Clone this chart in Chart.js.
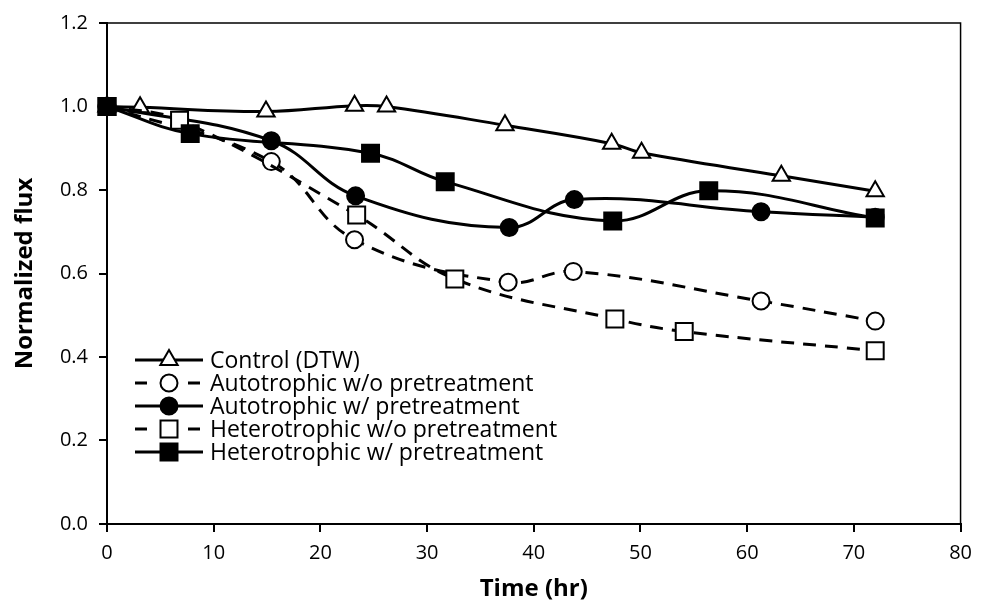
<!DOCTYPE html>
<html>
<head>
<meta charset="utf-8">
<script src="https://cdn.jsdelivr.net/npm/chart.js@4/dist/chart.umd.min.js"></script>
<style>
  html, body { margin: 0; background: #fff; }
  #wrap { width: 981px; height: 607px; }
</style>
</head>
<body>
<div id="wrap"><canvas id="c"></canvas></div>
<script>
// flux decline over time, five feed/pretreatment cases
const FONT = '"Open Sans", sans-serif';

const seriesNames = [
  'Control (DTW)',
  'Autotrophic w/o pretreatment',
  'Autotrophic w/ pretreatment',
  'Heterotrophic w/o pretreatment',
  'Heterotrophic w/ pretreatment',
];

const controlT = [0, 3.1, 14.9, 23.2, 26.2, 37.3, 47.3, 50.1, 63.2, 72];
const controlY = [1.0, 0.998, 0.988, 1.002, 1.0, 0.955, 0.911, 0.889, 0.834, 0.797];

const autoNoT = [0, 15.4, 23.2, 37.6, 43.7, 61.3, 72];
const autoNoY = [1.0, 0.868, 0.681, 0.579, 0.605, 0.534, 0.486];

const autoPreT = [0, 15.4, 23.3, 37.7, 43.8, 61.3, 72];
const autoPreY = [1.0, 0.918, 0.786, 0.710, 0.777, 0.748, 0.735];

const hetNoT = [0, 6.8, 23.4, 32.6, 47.6, 54.1, 72];
const hetNoY = [1.0, 0.967, 0.740, 0.587, 0.491, 0.461, 0.415];

const hetPreT = [0, 7.8, 24.7, 31.7, 47.4, 56.4, 72];
const hetPreY = [1.0, 0.935, 0.888, 0.820, 0.726, 0.798, 0.733];

const xTicks = [0, 10, 20, 30, 40, 50, 60, 70, 80];
const yTicks = [0, 0.2, 0.4, 0.6, 0.8, 1.0, 1.2];

const pts = (t, y) => t.map((x, i) => ({ x, y: y[i] }));

// marker look per series: [style, filled, dashed, radius]
const looks = [
  ['triangle', false, false, 10],
  ['circle', false, true, 8.5],
  ['circle', true, false, 8.5],
  ['rect', false, true, 12],
  ['rect', true, false, 12],
];

const seriesData = [
  pts(controlT, controlY),
  pts(autoNoT, autoNoY),
  pts(autoPreT, autoPreY),
  pts(hetNoT, hetNoY),
  pts(hetPreT, hetPreY),
];

const datasets = seriesNames.map((name, i) => {
  const [style, filled, dashed, r] = looks[i];
  return {
    label: name,
    data: seriesData[i],
    borderColor: '#000',
    borderWidth: 3,
    borderDash: dashed ? [13, 9] : [],
    tension: 0.4,
    pointStyle: style,
    pointRadius: r,
    pointBackgroundColor: filled ? '#000' : '#fff',
    pointBorderColor: '#000',
    pointBorderWidth: 2,
    clip: false,
    order: 4 - i,
  };
});

function drawMarker(ctx, style, filled, r, x, y) {
  ctx.save();
  ctx.beginPath();
  if (style === 'circle') {
    ctx.arc(x, y, r, 0, Math.PI * 2);
  } else if (style === 'rect') {
    const s = r * Math.SQRT1_2;
    ctx.rect(x - s, y - s, 2 * s, 2 * s);
  } else {
    for (let k = 0; k < 3; k++) {
      const a = -Math.PI / 2 + k * 2 * Math.PI / 3;
      const px = x + r * Math.cos(a), py = y + r * Math.sin(a);
      k ? ctx.lineTo(px, py) : ctx.moveTo(px, py);
    }
    ctx.closePath();
  }
  ctx.fillStyle = filled ? '#000' : '#fff';
  ctx.fill();
  ctx.lineWidth = 2;
  ctx.strokeStyle = '#000';
  ctx.setLineDash([]);
  ctx.stroke();
  ctx.restore();
}

// legend sits inside the plot, lower left
const insideLegend = {
  id: 'insideLegend',
  afterDraw(chart) {
    const ctx = chart.ctx;
    const a = chart.chartArea;
    const x0 = a.left + 28, x1 = a.left + 96, xm = (x0 + x1) / 2;
    const rowY = [360, 383, 406, 429, 452];
    ctx.save();
    ctx.strokeStyle = '#000';
    ctx.lineWidth = 3;
    seriesNames.forEach((name, i) => {
      const [style, filled, dashed, r] = looks[i];
      const y = rowY[i];
      ctx.beginPath();
      if (dashed) {
        ctx.moveTo(x0, y); ctx.lineTo(x0 + 12, y);
        ctx.moveTo(x1 - 15, y); ctx.lineTo(x1 - 3, y);
      } else {
        ctx.moveTo(x0, y); ctx.lineTo(x1, y);
      }
      ctx.stroke();
      drawMarker(ctx, style, filled, r, xm, y);
      ctx.fillStyle = '#000';
      ctx.font = '23px ' + FONT;
      ctx.textBaseline = 'middle';
      ctx.textAlign = 'left';
      ctx.fillText(name, x1 + 7, y + 1);
    });
    ctx.restore();
  },
};

// thin frame on top and right of plot
const frame = {
  id: 'frame',
  beforeDatasetsDraw(chart) {
    const ctx = chart.ctx;
    const a = chart.chartArea;
    ctx.save();
    ctx.strokeStyle = '#000';
    ctx.lineWidth = 1.5;
    ctx.beginPath();
    ctx.moveTo(a.left, a.top);
    ctx.lineTo(a.right, a.top);
    ctx.lineTo(a.right, a.bottom);
    ctx.stroke();
    ctx.restore();
  },
};

new Chart(document.getElementById('c'), {
  type: 'line',
  data: { datasets },
  plugins: [frame, insideLegend],
  options: {
    responsive: true,
    maintainAspectRatio: false,
    animation: false,
    layout: { padding: { top: 18, right: 17, bottom: 0, left: 0 } },
    plugins: { legend: { display: false }, tooltip: { enabled: false } },
    scales: {
      x: {
        type: 'linear',
        min: 0,
        max: 80,
        afterBuildTicks: (s) => { s.ticks = xTicks.map(v => ({ value: v })); },
        afterFit: (s) => { s.height = 83; },
        ticks: { color: '#000', font: { family: FONT, size: 20 }, padding: 9, maxRotation: 0 },
        grid: { drawOnChartArea: false, tickLength: 8, color: '#000', lineWidth: 2 },
        border: { color: '#000', width: 2 },
        title: {
          display: true, text: 'Time (hr)', color: '#000',
          font: { family: FONT, size: 24, weight: 'bold' },
          padding: { top: 4, bottom: 3 },
        },
      },
      y: {
        type: 'linear',
        min: 0,
        max: 1.2,
        afterBuildTicks: (s) => { s.ticks = yTicks.map(v => ({ value: v })); },
        afterFit: (s) => { s.width = 107; },
        ticks: { color: '#000', font: { family: FONT, size: 20 }, padding: 11, callback: v => v.toFixed(1) },
        grid: { drawOnChartArea: false, tickLength: 8, color: '#000', lineWidth: 2 },
        border: { color: '#000', width: 2 },
        title: {
          display: true, text: 'Normalized flux', color: '#000',
          font: { family: FONT, size: 24, weight: 'bold' },
          padding: { top: 11, bottom: 11 },
        },
      },
    },
  },
});
</script>
</body>
</html>
